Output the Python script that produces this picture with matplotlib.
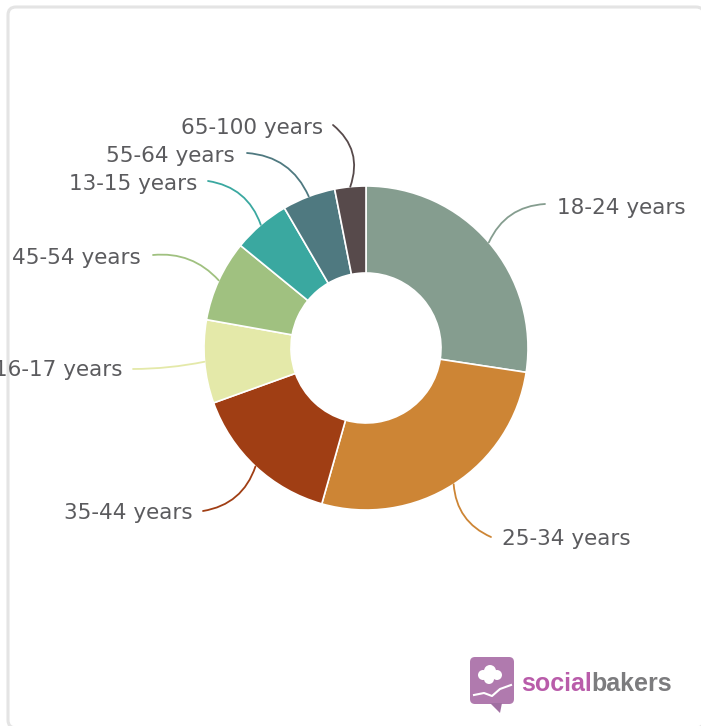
import matplotlib
matplotlib.use("Agg")
import matplotlib.pyplot as plt
from matplotlib.patches import FancyBboxPatch, Polygon, Circle
import numpy as np

# data, clockwise from 12 o'clock
labels = ["18-24 years", "25-34 years", "35-44 years", "16-17 years",
          "45-54 years", "13-15 years", "55-64 years", "65-100 years"]
shares = [27.4, 27.0, 15.1, 8.3, 8.1, 5.7, 5.3, 3.1]
colors = ["#859d8f", "#cd8535", "#a03e14", "#e4e9a9",
          "#a0c180", "#3aa8a0", "#4f7980", "#574a4b"]

W, H = 701, 726
CX, CY = 366, 348           # centre in image pixels
R_OUT, R_IN = 162, 75

def Y(y):
    return H - y

# label placement in image pixels: (x, y, ha, connector start, curvature)
label_pos = {
    "18-24 years": (557, 208, "left", (545, 204), 0.3),
    "25-34 years": (502, 539, "left", (491, 537), -0.3),
    "35-44 years": (193, 513, "right", (203, 511), 0.3),
    "16-17 years": (123, 370, "right", (133, 369), 0.05),
    "45-54 years": (141, 258, "right", (153, 255), -0.25),
    "13-15 years": (197, 184, "right", (208, 181), -0.3),
    "55-64 years": (235, 156, "right", (247, 153), -0.3),
    "65-100 years": (323, 128, "right", (333, 125), -0.35),
}

fig = plt.figure(figsize=(W / 100, H / 100), dpi=100)
ax = fig.add_axes([0, 0, 1, 1])

card = FancyBboxPatch((8, Y(728)), 696, 721, boxstyle="round,pad=0,rounding_size=8",
                      fc="white", ec="#e4e4e4", lw=2.2, zorder=0)
ax.add_patch(card)

wedges, _ = ax.pie(shares, colors=colors, startangle=90, counterclock=False,
                   radius=R_OUT, center=(CX, Y(CY)),
                   wedgeprops=dict(width=R_OUT - R_IN, edgecolor="white", linewidth=1.2))

ax.set_xlim(0, W)
ax.set_ylim(0, H)
ax.axis("off")

for w, lab, col in zip(wedges, labels, colors):
    mid = np.deg2rad((w.theta1 + w.theta2) / 2)
    px = CX + R_OUT * np.cos(mid)
    py = Y(CY) + R_OUT * np.sin(mid)
    tx, ty, ha, (sx, sy), rad = label_pos[lab]
    ax.annotate("", xy=(px, py), xytext=(sx, Y(sy)),
                arrowprops=dict(arrowstyle="-", color=col, lw=1.3,
                                shrinkA=0, shrinkB=0,
                                connectionstyle="arc3,rad=%s" % rad))
    t = ax.text(tx, Y(ty), lab, ha=ha, va="center", fontsize=15.5,
                color="#5b5b5e", family="DejaVu Sans")
    t.set_clip_path(card)

# socialbakers logo
icon = FancyBboxPatch((470, Y(704)), 44, 47, boxstyle="round,pad=0,rounding_size=5",
                      fc="#b07aae", ec="none", zorder=3)
ax.add_patch(icon)
ax.add_patch(Polygon([(490, Y(703)), (502, Y(703)), (500, Y(713))],
                     closed=True, fc="#a070a2", ec="none", zorder=3))
for (cx, cy, r) in [(483, 675, 5), (490, 671, 6), (497, 675, 5), (489, 679, 5)]:
    ax.add_patch(Circle((cx, Y(cy)), r, fc="white", ec="none", zorder=4))
ax.plot([474, 484, 492, 500, 511], [Y(695), Y(693), Y(696), Y(689), Y(685)],
        color="white", lw=1.5, zorder=4)

renderer = fig.canvas.get_renderer()
t1 = ax.text(521, Y(684), "social", ha="left", va="center", fontsize=18,
             fontweight="bold", color="#b95caa", family="Liberation Sans")
bb = t1.get_window_extent(renderer)
x_end = ax.transData.inverted().transform((bb.x1, bb.y0))[0]
ax.text(x_end, Y(684), "bakers", ha="left", va="center", fontsize=18,
        fontweight="bold", color="#7c7c7e", family="Liberation Sans")

fig.savefig("out.png", dpi=100)
